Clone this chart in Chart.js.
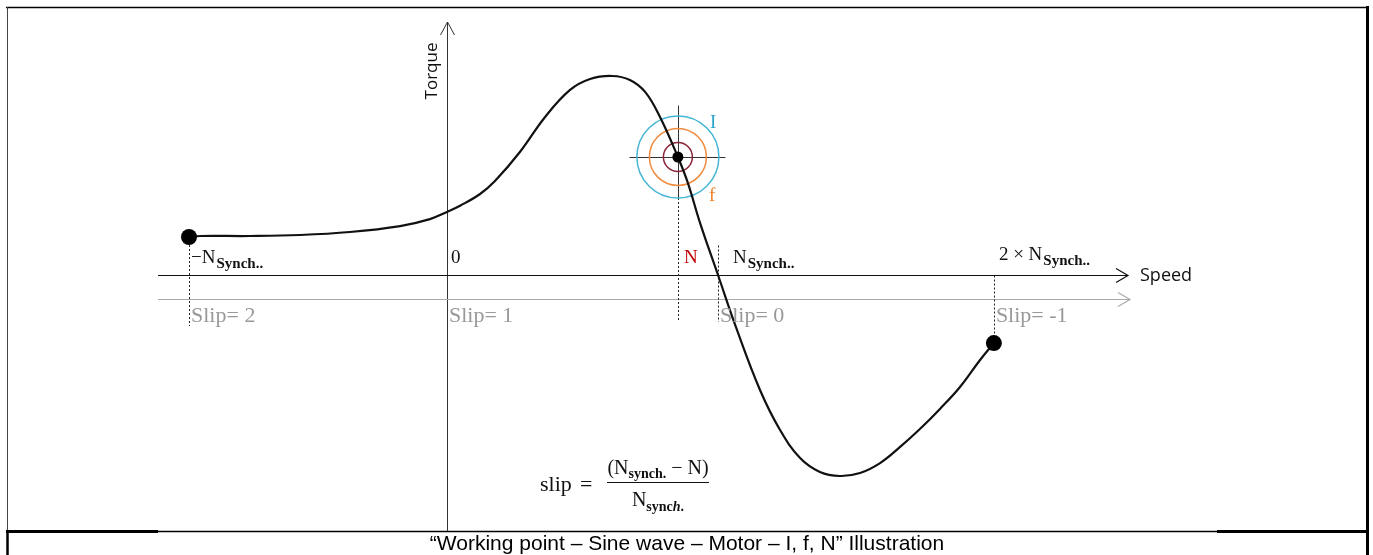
<!DOCTYPE html>
<html>
<head>
<meta charset="utf-8">
<script src="https://cdn.jsdelivr.net/npm/chart.js@4/dist/chart.umd.min.js"></script>
<style>
  html, body { margin: 0; padding: 0; background: #fff; }
  #wrap { width: 1373px; height: 555px; }
</style>
</head>
<body>
<div id="wrap"><canvas id="torqueChart" width="1373" height="555"></canvas></div>
<script>
// Torque / speed curve, speed in multiples of N_synch, torque relative to the peak
const curveSpeed = [-0.952, -0.911, -0.727, -0.542, -0.358, -0.173, -0.063, 0, 0.048, 0.122, 0.177, 0.269, 0.362, 0.454, 0.528, 0.609, 0.675, 0.731, 0.786, 0.852, 0.889, 0.934, 1.0, 1.066, 1.155, 1.229, 1.303, 1.376, 1.45, 1.524, 1.598, 1.672, 1.745, 1.819, 1.893, 1.967, 2.018];
const curveTorque = [0.191, 0.196, 0.196, 0.201, 0.216, 0.246, 0.281, 0.317, 0.348, 0.407, 0.472, 0.618, 0.794, 0.93, 0.985, 1.0, 0.98, 0.92, 0.794, 0.593, 0.462, 0.261, 0, -0.261, -0.578, -0.779, -0.92, -0.99, -1.01, -0.995, -0.945, -0.864, -0.774, -0.673, -0.563, -0.427, -0.342];

const endSpeed = [-0.952, 2.018];
const endTorque = [0.191, -0.342];

const workSpeed = 0.852;
const workTorque = 0.593;

// speed axis marks
const markSpeed = [-0.952, 0, 0.852, 1.0, 2.018];
const slipSpeed = [-0.952, 0, 1.0, 2.018];
const slipLabels = ['Slip= 2', 'Slip= 1', 'Slip= 0', 'Slip= -1'];

const SERIF = '"Liberation Serif", "Times New Roman", serif';
const SANS = '"Open Sans", "Liberation Sans", sans-serif';

function subN(ctx, x, y, pre, sub, color, size) {
    ctx.fillStyle = color;
    ctx.font = size + 'px ' + SERIF;
    ctx.fillText(pre + 'N', x, y);
    const w = ctx.measureText(pre + 'N').width;
    ctx.font = 'bold ' + Math.round(size * 0.78) + 'px ' + SERIF;
    ctx.fillText(sub, x + w + 1, y + 5);
    return w + 1 + ctx.measureText(sub).width;
}

const drawing = {
    id: 'drawing',
    beforeDraw(chart) {
        const ctx = chart.ctx;
        ctx.save();
        ctx.fillStyle = '#fff';
        ctx.fillRect(0, 0, chart.width, chart.height);
        ctx.strokeStyle = '#000';
        // frame
        ctx.lineWidth = 1.5;
        ctx.beginPath(); ctx.moveTo(6, 7.5); ctx.lineTo(1369, 7.5); ctx.stroke();
        ctx.lineWidth = 1;
        ctx.strokeStyle = '#444';
        ctx.beginPath(); ctx.moveTo(7.5, 7); ctx.lineTo(7.5, 531); ctx.stroke();
        ctx.strokeStyle = '#000';
        ctx.lineWidth = 2.5;
        ctx.beginPath(); ctx.moveTo(7.5, 531); ctx.lineTo(7.5, 555); ctx.stroke();
        ctx.lineWidth = 3;
        ctx.beginPath(); ctx.moveTo(1367.5, 6); ctx.lineTo(1367.5, 555); ctx.stroke();
        ctx.beginPath(); ctx.moveTo(6, 531.5); ctx.lineTo(158, 531.5); ctx.stroke();
        ctx.beginPath(); ctx.moveTo(1217, 531.5); ctx.lineTo(1369, 531.5); ctx.stroke();
        ctx.lineWidth = 1.5;
        ctx.beginPath(); ctx.moveTo(158, 531.5); ctx.lineTo(1217, 531.5); ctx.stroke();
        // caption
        ctx.fillStyle = '#000';
        ctx.font = '21px "Liberation Sans", Arial, sans-serif';
        ctx.textAlign = 'center';
        ctx.textBaseline = 'alphabetic';
        ctx.fillText('\u201cWorking point \u2013 Sine wave \u2013 Motor \u2013 I, f, N\u201d Illustration', 687, 550);
        ctx.restore();
    },
    beforeDatasetsDraw(chart) {
        const ctx = chart.ctx;
        const xs = chart.scales.x, ys = chart.scales.y;
        const x0 = Math.round(xs.getPixelForValue(0)) + 0.5;
        const y0 = Math.round(ys.getPixelForValue(0)) + 0.5;
        const ySlip = y0 + 24;
        ctx.save();
        // torque axis
        ctx.strokeStyle = '#333';
        ctx.lineWidth = 1;
        ctx.beginPath(); ctx.moveTo(x0, 22); ctx.lineTo(x0, 531); ctx.stroke();
        ctx.beginPath(); ctx.moveTo(x0 - 7, 35); ctx.lineTo(x0, 22); ctx.lineTo(x0 + 7, 35); ctx.stroke();
        // speed axis
        ctx.strokeStyle = '#111';
        ctx.lineWidth = 1.2;
        ctx.beginPath(); ctx.moveTo(158, y0); ctx.lineTo(1128, y0); ctx.stroke();
        ctx.beginPath(); ctx.moveTo(1116, y0 - 7); ctx.lineTo(1128, y0); ctx.lineTo(1116, y0 + 7); ctx.stroke();
        // slip axis
        ctx.strokeStyle = '#aaa';
        ctx.beginPath(); ctx.moveTo(158, ySlip); ctx.lineTo(1130, ySlip); ctx.stroke();
        ctx.beginPath(); ctx.moveTo(1118, ySlip - 7); ctx.lineTo(1130, ySlip); ctx.lineTo(1118, ySlip + 7); ctx.stroke();
        // dotted drop lines
        ctx.strokeStyle = '#222';
        ctx.lineWidth = 1;
        ctx.setLineDash([2, 2]);
        const tops = [ys.getPixelForValue(endTorque[0]), ys.getPixelForValue(workTorque) + 41, y0 - 30, y0];
        const bots = [326, 322, 322, ys.getPixelForValue(endTorque[1]) - 6];
        [markSpeed[0], markSpeed[2], markSpeed[3], markSpeed[4]].forEach((s, i) => {
            const px = Math.round(xs.getPixelForValue(s)) + 0.5;
            ctx.beginPath(); ctx.moveTo(px, tops[i]); ctx.lineTo(px, bots[i]); ctx.stroke();
        });
        ctx.setLineDash([]);
        // crosshair at working point
        const wx = Math.round(xs.getPixelForValue(workSpeed)) + 0.5;
        const wy = Math.round(ys.getPixelForValue(workTorque)) + 0.5;
        ctx.strokeStyle = '#333';
        ctx.beginPath(); ctx.moveTo(wx - 49, wy); ctx.lineTo(wx + 47, wy); ctx.stroke();
        ctx.beginPath(); ctx.moveTo(wx, wy - 52); ctx.lineTo(wx, wy + 41); ctx.stroke();
        ctx.restore();
    },
    afterDatasetsDraw(chart) {
        const ctx = chart.ctx;
        const xs = chart.scales.x, ys = chart.scales.y;
        const x0 = xs.getPixelForValue(0);
        const y0 = ys.getPixelForValue(0);
        const wx = xs.getPixelForValue(workSpeed);
        const wy = ys.getPixelForValue(workTorque);
        ctx.save();
        ctx.textAlign = 'left';
        ctx.textBaseline = 'alphabetic';
        // axis titles
        ctx.fillStyle = '#111';
        ctx.font = '17px ' + SANS;
        ctx.save();
        ctx.translate(x0 - 10, 71);
        ctx.rotate(-Math.PI / 2);
        ctx.textAlign = 'center';
        ctx.fillText('Torque', 0, 0);
        ctx.restore();
        ctx.font = '18px ' + SANS;
        ctx.fillText('Speed', 1140, y0 + 6);
        // speed marks
        const p = markSpeed.map(s => xs.getPixelForValue(s));
        subN(ctx, p[0] + 2, y0 - 12, '\u2212', 'Synch..', '#111', 19);
        ctx.font = '19px ' + SERIF;
        ctx.fillStyle = '#111';
        ctx.fillText('0', p[1] + 4, y0 - 12);
        ctx.fillStyle = '#c00000';
        ctx.fillText('N', p[2] + 6, y0 - 12);
        subN(ctx, p[3] + 15, y0 - 12, '', 'Synch..', '#111', 19);
        subN(ctx, p[4] + 5, y0 - 15, '2 \u00d7 ', 'Synch..', '#111', 19);
        // slip labels
        ctx.font = '22px ' + SERIF;
        ctx.fillStyle = '#999';
        slipSpeed.forEach((s, i) => {
            ctx.fillText(slipLabels[i], xs.getPixelForValue(s) + 2, y0 + 47);
        });
        // I and f
        ctx.font = '19px ' + SERIF;
        ctx.fillStyle = '#2aa3c9';
        ctx.fillText('I', wx + 32, wy - 29);
        ctx.fillStyle = '#f07e22';
        ctx.fillText('f', wx + 31, wy + 44);
        // slip formula
        ctx.fillStyle = '#111';
        ctx.font = '22px ' + SERIF;
        ctx.fillText('slip', 540, 491);
        ctx.fillText('=', 580, 491);
        const barL = 607, barR = 709, mid = (barL + barR) / 2;
        ctx.lineWidth = 1.2;
        ctx.strokeStyle = '#111';
        ctx.beginPath(); ctx.moveTo(barL, 482.5); ctx.lineTo(barR, 482.5); ctx.stroke();
        // numerator
        ctx.font = '20px ' + SERIF;
        const wA = ctx.measureText('(N').width;
        const wC = ctx.measureText(' \u2212 N)').width;
        ctx.font = 'bold 14px ' + SERIF;
        const wB = ctx.measureText('synch.').width;
        const nx = mid - (wA + wB + wC) / 2;
        ctx.font = '20px ' + SERIF;
        ctx.fillText('(N', nx, 474);
        ctx.font = 'bold 14px ' + SERIF;
        ctx.fillText('synch.', nx + wA, 478);
        ctx.font = '20px ' + SERIF;
        ctx.fillText(' \u2212 N)', nx + wA + wB, 474);
        // denominator
        ctx.font = '20px ' + SERIF;
        const wN = ctx.measureText('N').width;
        ctx.font = 'bold 14px ' + SERIF;
        const wS = ctx.measureText('sync').width;
        ctx.font = 'italic bold 14px ' + SERIF;
        const wH = ctx.measureText('h').width;
        ctx.font = 'bold 14px ' + SERIF;
        const dx = mid - (wN + wS + wH + ctx.measureText('.').width) / 2;
        ctx.font = '20px ' + SERIF;
        ctx.fillText('N', dx, 506);
        ctx.font = 'bold 14px ' + SERIF;
        ctx.fillText('sync', dx + wN, 511);
        ctx.font = 'italic bold 14px ' + SERIF;
        ctx.fillText('h', dx + wN + wS, 511);
        ctx.font = 'bold 14px ' + SERIF;
        ctx.fillText('.', dx + wN + wS + wH, 511);
        ctx.restore();
    }
};

const curveData = curveSpeed.map((s, i) => ({ x: s, y: curveTorque[i] }));
const endData = endSpeed.map((s, i) => ({ x: s, y: endTorque[i] }));
const workData = [{ x: workSpeed, y: workTorque }];
const ringData = [workData[0], workData[0], workData[0]];

new Chart(document.getElementById('torqueChart'), {
    type: 'scatter',
    data: {
        datasets: [
            {
                label: 'Working point',
                data: workData,
                pointRadius: 5.5,
                backgroundColor: '#000',
                borderWidth: 0,
                clip: false
            },
            {
                label: 'Ends',
                data: endData,
                pointRadius: 8,
                backgroundColor: '#000',
                borderWidth: 0,
                clip: false
            },
            {
                label: 'Torque',
                type: 'line',
                data: curveData,
                borderColor: '#111',
                borderWidth: 2.2,
                pointRadius: 0,
                fill: false,
                tension: 0.4,
                clip: false
            },
            {
                label: 'Rings',
                data: ringData,
                pointRadius: [41, 28.5, 14.5],
                borderColor: ['#45b6d4', '#f08a3c', '#8b2438'],
                backgroundColor: 'rgba(0,0,0,0)',
                borderWidth: 1.5,
                clip: false
            }
        ]
    },
    options: {
        responsive: false,
        animation: false,
        events: [],
        layout: { padding: 0, autoPadding: false },
        scales: {
            x: { type: 'linear', display: false, min: -447 / 271, max: 926 / 271 },
            y: { type: 'linear', display: false, min: -280 / 199, max: 275 / 199 }
        },
        plugins: {
            legend: { display: false },
            tooltip: { enabled: false }
        }
    },
    plugins: [drawing]
});
</script>
</body>
</html>
